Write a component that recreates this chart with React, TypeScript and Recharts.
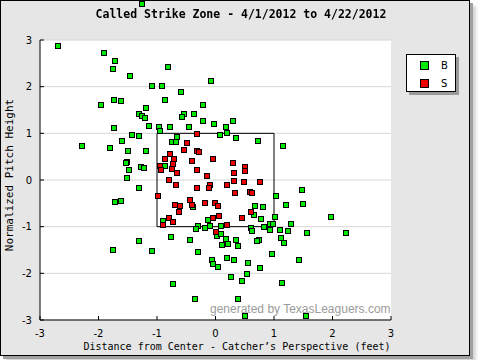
import { ScatterChart, Scatter, XAxis, YAxis, CartesianGrid, ReferenceArea, ReferenceDot } from "recharts";

const axisTicks = [-3, -2, -1, 0, 1, 2, 3];

// called balls (B): [horizontal feet, normalized height]
const balls: [number, number][] = [
  [-2.7, 2.88], [-1.9, 2.73], [-1.72, 2.55], [-1.76, 2.38], [-1.96, 1.61], [-1.74, 1.72],
  [-1.62, 1.7], [-1.74, 1.12], [-2.29, 0.73], [-1.81, 0.69], [-1.72, -0.47], [-1.62, -0.45],
  [-1.76, -1.5], [-0.82, 2.43], [-1.47, 2.23], [-1.09, 2.02], [-0.92, 2.02], [-0.87, 1.72],
  [-1.18, 1.55], [-1.3, 1.42], [-1.26, 1.38], [-1.21, 1.33], [-1.13, 1.16], [-0.97, 1.14],
  [-0.78, 1.14], [-0.95, 1.05], [-1.42, 0.97], [-1.3, 0.95], [-1.59, 0.84], [-0.74, 0.82],
  [-0.68, 0.82], [-1.5, 0.63], [-1.19, 0.63], [-1.52, 0.39], [-1.53, 0.37], [-1.48, 0.22],
  [-1.28, 0.28], [-1.23, 0.26], [-0.87, 0.3], [-1.52, 0.05], [-1.3, -0.17], [-0.9, -0.87],
  [-0.76, -1.22], [-1.3, -1.3], [-1.09, -1.52], [-0.73, -2.22], [-0.08, 2.13], [-0.59, 1.89],
  [-0.22, 1.61], [-0.53, 1.42], [-0.58, 1.35], [-0.37, 1.42], [-0.22, 1.27], [-0.03, 1.2],
  [-0.46, 1.14], [0.08, 0.97], [-0.66, 0.93], [-0.39, -0.57], [-0.13, -0.85], [-0.3, -0.98],
  [-0.34, -1.05], [-0.18, -1.02], [-0.1, -0.98], [0.09, -0.98], [0.02, -1.2], [-0.44, -1.28],
  [-0.3, -1.54], [-0.06, -1.71], [-0.05, -1.8], [0.04, -1.86], [-0.35, -2.55], [0.3, 1.27],
  [0.18, 1.14], [0.19, 1.01], [0.35, 0.9], [0.72, 0.84], [0.67, -0.55], [0.81, -0.57],
  [0.66, -0.75], [0.78, -0.83], [0.6, -1.02], [0.62, -1.09], [0.83, -1.0], [0.09, -1.15],
  [0.18, -1.26], [0.35, -1.28], [0.21, -1.37], [0.11, -1.39], [0.38, -1.41], [0.74, -1.28],
  [0.71, -1.3], [0.19, -1.67], [0.31, -1.71], [0.55, -1.77], [0.76, -1.88], [0.54, -2.01],
  [0.26, -2.07], [0.45, -2.16], [0.38, -2.55], [0.5, -2.91], [1.15, 0.73], [1.48, -0.21],
  [1.03, -0.34], [1.49, -0.51], [1.2, -0.53], [1.02, -0.79], [1.97, -0.79], [0.93, -0.94],
  [0.98, -0.94], [1.29, -0.94], [0.93, -1.07], [1.1, -1.07], [1.24, -1.09], [1.56, -1.13],
  [2.23, -1.13], [1.12, -1.24], [1.17, -1.35], [0.96, -1.58], [1.43, -1.71], [1.14, -2.2],
  [1.55, -2.91],
];

// one ball landed above the top of the plot
const ballsOffChart: [number, number][] = [[-1.26, 3.78]];

// called strikes (S)
const strikes: [number, number][] = [
  [-0.77, 0.56], [-0.87, 0.45], [-0.95, 0.3], [-0.94, 0.22], [-0.75, 0.24], [-0.73, 0.35],
  [-0.71, 0.44], [-0.8, 0.0], [-0.68, -0.1], [-0.99, -0.34], [-0.7, -0.53], [-0.8, -0.81],
  [-0.73, -0.9], [-0.9, -0.96], [-0.32, 0.99], [-0.49, 0.8], [-0.54, 0.65], [-0.32, 0.63],
  [-0.29, 0.6], [-0.05, 0.45], [-0.41, 0.41], [-0.65, 0.15], [-0.32, 0.22], [-0.15, 0.09],
  [-0.32, -0.17], [-0.1, -0.1], [-0.11, -0.17], [-0.43, -0.42], [-0.41, -0.53], [-0.61, -0.55],
  [-0.63, -0.68], [-0.18, -0.49], [-0.01, -0.49], [0.04, -0.55], [0.06, -0.77], [-0.05, -0.81],
  [0.01, -1.11], [0.3, 0.37], [0.5, 0.28], [0.5, 0.2], [0.31, 0.15], [0.19, -0.1],
  [0.31, -0.02], [0.48, -0.04], [0.76, -0.04], [0.33, -0.27], [0.59, -0.25], [0.62, -0.27],
  [0.6, -0.68], [0.45, -0.81], [0.19, -0.96],
];

const zoneX: [number, number] = [-1, 1];
const zoneY: [number, number] = [-1, 1];

const GREEN = "#00e800";
const RED = "#ee0000";

const square = (fill: string) => (props: any) => {
  const { cx, cy } = props;
  if (cx == null || cy == null) return null;
  const x = Math.round(cx) - 2.5;
  const y = Math.round(cy) - 2.5;
  return <rect x={x} y={y} width={5} height={5} fill={fill} stroke="#000" strokeWidth={1} />;
};

const tickStyle = { fill: "#000", fontSize: 10, fontFamily: "DejaVu Sans" };

export default function App() {
  const ballData = balls.map(([x, y]) => ({ x, y }));
  const strikeData = strikes.map(([x, y]) => ({ x, y }));

  return (
    <div style={{ position: "fixed", left: 0, top: 0, width: 480, height: 360, background: "#fff" }}>
      <div
        style={{
          position: "absolute",
          left: 0,
          top: 0,
          width: 468,
          height: 354,
          border: "1px solid #000",
          background: "#e6e6e6",
          boxShadow: "3px 3px 0 #a0a0a0, 6px 6px 3px #d4d4d4",
        }}
      >
        <div style={{ position: "absolute", left: -1, top: -1 }}>
          <ScatterChart width={470} height={356} margin={{ top: 40, right: 79, bottom: 0, left: 0 }}>
            <CartesianGrid vertical={false} stroke="#d6d6d6" fill="#fefffe" />
            <XAxis
              type="number"
              dataKey="x"
              domain={[-3, 3]}
              ticks={axisTicks}
              height={36}
              tickSize={-4}
              tickMargin={14}
              axisLine={{ stroke: "#000" }}
              tickLine={{ stroke: "#000" }}
              tick={tickStyle}
            />
            <YAxis
              type="number"
              dataKey="y"
              domain={[-3, 3]}
              ticks={axisTicks}
              width={40}
              tickSize={-4}
              tickMargin={12}
              axisLine={{ stroke: "#000" }}
              tickLine={{ stroke: "#000" }}
              tick={tickStyle}
            />
            <ReferenceArea
              x1={zoneX[0]}
              x2={zoneX[1]}
              y1={zoneY[0]}
              y2={zoneY[1]}
              fill="none"
              fillOpacity={0}
              stroke="#000"
              strokeWidth={1}
            />
            <Scatter data={ballData} shape={square(GREEN)} isAnimationActive={false} />
            <Scatter data={strikeData} shape={square(RED)} isAnimationActive={false} />
            {ballsOffChart.map(([x, y]) => (
              <ReferenceDot key={`${x}-${y}`} x={x} y={y} ifOverflow="visible" shape={square(GREEN)} />
            ))}
          </ScatterChart>
        </div>

        <div
          style={{
            position: "absolute",
            left: -1,
            top: 6,
            width: 482,
            textAlign: "center",
            fontFamily: "DejaVu Sans Mono",
            fontWeight: "bold",
            fontSize: 11.5,
            lineHeight: "14px",
            color: "#000",
            whiteSpace: "nowrap",
          }}
        >
          Called Strike Zone - 4/1/2012 to 4/22/2012
        </div>

        <div
          style={{
            position: "absolute",
            left: -1,
            top: 339,
            width: 474,
            textAlign: "center",
            fontFamily: "DejaVu Sans Mono",
            fontSize: 10,
            lineHeight: "14px",
            color: "#000",
            whiteSpace: "nowrap",
          }}
        >
          Distance from Center - Catcher’s Perspective (feet)
        </div>

        <div
          style={{
            position: "absolute",
            left: -91,
            top: 167,
            width: 200,
            height: 14,
            textAlign: "center",
            fontFamily: "DejaVu Sans Mono",
            fontSize: 11,
            lineHeight: "14px",
            color: "#000",
            whiteSpace: "nowrap",
            transform: "rotate(-90deg)",
          }}
        >
          Normalized Pitch Height
        </div>

        <div
          style={{
            position: "absolute",
            left: 209,
            top: 301,
            width: 178,
            textAlign: "center",
            fontFamily: "Liberation Sans",
            fontSize: 12,
            lineHeight: "14px",
            color: "#9c9c9c",
            whiteSpace: "nowrap",
            pointerEvents: "none",
          }}
        >
          generated by TexasLeaguers.com
        </div>

        <div
          style={{
            position: "absolute",
            left: 405,
            top: 53,
            width: 48,
            height: 36,
            background: "#fff",
            border: "1px solid #000",
            boxShadow: "3px 3px 0 #9a9a9a",
            fontFamily: "DejaVu Sans",
            fontSize: 10,
          }}
        >
          {[
            { name: "B", color: GREEN },
            { name: "S", color: RED },
          ].map((item, i) => (
            <div key={item.name} style={{ position: "absolute", left: 13, top: 6 + i * 18, height: 9, display: "flex", alignItems: "center" }}>
              <span style={{ display: "inline-block", width: 7, height: 7, background: item.color, border: "1px solid #000" }} />
              <span style={{ marginLeft: 12, lineHeight: "9px" }}>{item.name}</span>
            </div>
          ))}
        </div>
      </div>
    </div>
  );
}
